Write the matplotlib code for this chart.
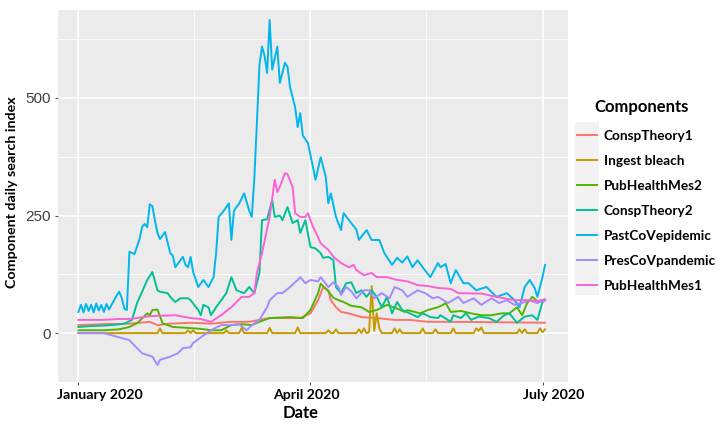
import matplotlib
matplotlib.use('Agg')
import matplotlib.pyplot as plt
import matplotlib.transforms as mtransforms
from matplotlib.patches import Rectangle
import pandas as pd

plt.rcParams['font.family'] = ['Lato', 'DejaVu Sans']

start = pd.Timestamp('2020-01-01')

# values, days counted from 1 Jan 2020
consp1_days = [0, 10, 20, 24, 28, 31, 36, 44, 52, 60, 67, 75, 87, 91, 94, 96, 98, 99, 101, 103,
               106, 111, 117, 124, 130, 137, 146, 166, 183]
consp1_vals = [17, 19, 20, 22, 24, 17, 20, 22, 20, 24, 24, 32, 32, 42, 70, 98, 91, 70, 55, 45,
               42, 34, 32, 28, 28, 24, 24, 23, 22]

bleach_days = [0, 31, 32, 33, 42, 43, 44, 45, 46, 57, 58, 59, 63, 64, 65, 74, 75, 76, 85, 86, 87,
               97, 98, 99, 100, 101, 102, 109, 110, 111, 112, 113, 114, 115, 116, 117, 118, 119,
               123, 124, 125, 126, 127, 134, 135, 136, 139, 140, 141, 146, 147, 148, 155, 156, 157,
               158, 159, 172, 173, 174, 175, 176, 180, 181, 182, 183]
bleach_vals = [0, 0, 10, 0, 0, 6, 0, 6, 0, 0, 6, 0, 0, 11, 0, 0, 11, 0, 0, 12, 0,
               0, 6, 0, 0, 8, 0, 0, 8, 0, 10, 0, 2, 100, 5, 42, 10, 0,
               0, 10, 0, 8, 0, 0, 10, 0, 0, 8, 0, 0, 10, 0, 0, 10, 5,
               12, 0, 0, 8, 0, 8, 0, 0, 10, 2, 8]

pubhealth2_days = [0, 10, 16, 20, 23, 27, 28, 29, 31, 33, 37, 43, 48, 52, 56, 60, 64, 68, 71, 75,
                   83, 88, 91, 94, 95, 98, 100, 102, 104, 107, 111, 114, 117, 121, 125, 128, 129,
                   134, 137, 141, 143, 144, 146, 150, 154, 158, 162, 166, 169, 172, 174, 176, 178,
                   180, 183]
pubhealth2_vals = [6, 6, 8, 13, 21, 42, 38, 49, 50, 21, 13, 11, 9, 6, 6, 17, 19, 17, 24, 32,
                   34, 32, 49, 85, 105, 89, 75, 70, 66, 58, 55, 45, 49, 60, 52, 45, 49,
                   42, 49, 55, 60, 64, 45, 47, 42, 38, 38, 42, 42, 55, 38, 64, 77,
                   68, 70]

consp2_days = [0, 5, 10, 15, 18, 21, 23, 25, 27, 29, 31, 32, 35, 36, 38, 40, 43, 44, 47, 48,
               49, 51, 52, 54, 56, 58, 60, 62, 65, 67, 69, 71, 72, 74, 76, 77, 79, 80, 82, 84,
               86, 87, 89, 91, 93, 95, 96, 98, 100, 101, 102, 103, 105, 107, 109, 111, 113,
               115, 117, 119, 121, 123, 125, 127, 130, 133, 135, 138, 141, 142, 146, 147, 150,
               152, 154, 157, 161, 164, 167, 169, 172, 175, 178, 180, 182, 183]
consp2_vals = [13, 15, 16, 18, 20, 28, 64, 88, 113, 130, 91, 88, 85, 77, 66, 74, 74, 70, 49, 38,
               60, 55, 38, 55, 70, 85, 119, 91, 85, 98, 85, 128, 240, 242, 283, 247, 250, 240, 268, 234,
               240, 213, 240, 183, 180, 170, 160, 162, 155, 98, 91, 85, 106, 108, 85, 91, 77,
               91, 77, 55, 77, 42, 66, 49, 42, 34, 42, 34, 32, 38, 24, 38, 32,
               42, 28, 35, 32, 24, 38, 42, 22, 35, 38, 28, 66, 70]

past_days = [0, 1, 2, 3, 4, 5, 6, 7, 8, 9, 10, 11, 12, 14, 15, 16, 17, 18, 19, 20,
             22, 24, 25, 26, 27, 28, 29, 30, 31, 32, 34, 36, 37, 38, 40, 41, 42, 43, 44, 45,
             47, 49, 51, 53, 54, 55, 57, 59, 60, 61, 62, 63, 65, 67, 68, 69, 70, 71, 72, 73,
             74, 75, 76, 78, 79, 81, 82, 83, 85, 86, 87, 88, 90, 92, 93, 95, 97, 98, 99, 101,
             103, 104, 107, 109, 110, 113, 115, 118, 120, 123, 125, 127, 129, 131, 133, 135,
             138, 141, 142, 144, 146, 148, 151, 153, 156, 160, 164, 168, 171, 173, 175, 177,
             179, 180, 182, 183]
past_vals = [45, 60, 44, 62, 47, 60, 44, 63, 48, 60, 45, 62, 50, 70, 80, 88, 75, 52, 49, 173,
             168, 200, 226, 232, 225, 274, 270, 240, 213, 200, 215, 170, 165, 140, 155, 162, 145, 140, 162, 130,
             98, 113, 98, 119, 170, 247, 260, 276, 198, 260, 268, 275, 297, 260, 247, 330, 447, 570, 609, 590,
             553, 666, 560, 609, 532, 575, 566, 523, 480, 438, 468, 420, 404, 353, 326, 374, 332, 276, 297, 247,
             219, 255, 234, 220, 198, 219, 198, 198, 170, 145, 160, 150, 163, 140, 155, 140,
             119, 149, 140, 147, 106, 134, 106, 106, 91, 98, 77, 85, 70, 55, 98, 113,
             95, 77, 119, 145]

pres_days = [0, 10, 20, 23, 25, 29, 31, 32, 36, 39, 41, 44, 45, 48, 52, 56, 60, 63, 66, 68,
             71, 74, 75, 78, 80, 83, 86, 87, 89, 91, 94, 95, 98, 100, 102, 103, 105, 107, 109,
             112, 114, 116, 119, 122, 124, 127, 129, 133, 136, 139, 141, 145, 149, 151, 155,
             158, 162, 165, 168, 171, 174, 177, 180, 183]
pres_vals = [0, 0, -15, -32, -43, -50, -68, -57, -50, -43, -32, -30, -21, -9, 6, 17, 17, 19, 6, 17,
             28, 55, 70, 85, 85, 98, 113, 119, 106, 113, 110, 119, 98, 108, 98, 81, 98, 89, 74,
             91, 91, 74, 85, 74, 98, 91, 77, 91, 85, 74, 77, 64, 77, 64, 74,
             60, 74, 64, 70, 60, 64, 70, 64, 70]

pubhealth1_days = [0, 9, 16, 20, 23, 28, 38, 44, 48, 52, 56, 60, 64, 67, 69, 70, 72, 75, 77, 78,
                   79, 81, 82, 84, 85, 87, 89, 90, 92, 94, 95, 98, 100, 103, 106, 108, 109, 112,
                   115, 117, 121, 125, 129, 133, 137, 141, 146, 149, 158, 164, 171, 176, 180, 183]
pubhealth1_vals = [28, 28, 30, 30, 32, 36, 38, 32, 30, 24, 38, 55, 77, 77, 85, 128, 170, 247, 326, 300,
                   311, 340, 338, 311, 255, 247, 247, 255, 226, 204, 191, 177, 162, 149, 140, 145, 134, 123,
                   128, 119, 119, 113, 110, 102, 100, 96, 94, 85, 84, 77, 70, 70, 68, 72]

names = ['ConspTheory1', 'Ingest bleach', 'PubHealthMes2', 'ConspTheory2',
         'PastCoVepidemic', 'PresCoVpandemic', 'PubHealthMes1']
colors = ['#F8766D', '#C49A00', '#53B400', '#00C094', '#00B6EB', '#A58AFF', '#FB61D7']
series = [(consp1_days, consp1_vals), (bleach_days, bleach_vals),
          (pubhealth2_days, pubhealth2_vals), (consp2_days, consp2_vals),
          (past_days, past_vals), (pres_days, pres_vals),
          (pubhealth1_days, pubhealth1_vals)]


def to_dates(days):
    return start + pd.to_timedelta(days, unit='D')


fig = plt.figure(figsize=(7.28, 4.28), dpi=100)
ax = fig.add_axes([58 / 728, 1 - 382 / 428, 510 / 728, 372 / 428])
ax.set_facecolor('#EBEBEB')
for s in ax.spines.values():
    s.set_visible(False)

lines = []
for (days, vals), name, c in zip(series, names, colors):
    ln, = ax.plot(to_dates(days), vals, color=c, lw=1.4, label=name)
    lines.append(ln)

ax.set_xlim(start - pd.Timedelta(days=8), start + pd.Timedelta(days=192))
ax.set_ylim(-104, 687)

major_x = [pd.Timestamp('2020-01-01'), pd.Timestamp('2020-04-01'), pd.Timestamp('2020-07-01')]
minor_x = [pd.Timestamp('2020-02-15 12:00'), pd.Timestamp('2020-05-16 12:00')]
ax.set_xticks(major_x)
ax.set_xticklabels(['January 2020', 'April 2020', 'July 2020'], fontsize=10.2, fontweight='bold')
ax.set_xticks(minor_x, minor=True)
ax.set_yticks([0, 250, 500])
ax.set_yticklabels(['0', '250', '500'], fontsize=11, color='#404040',
                   fontfamily=['Liberation Sans'])
ax.set_yticks([125, 375, 625], minor=True)

ax.grid(which='major', color='white', lw=1.2)
ax.grid(which='minor', color='white', lw=0.6)
ax.set_axisbelow(True)
ax.tick_params(which='major', length=2.5, width=0.8, color='#555555', pad=2.5)
ax.tick_params(which='minor', length=0)

# shift x labels as placed in the original picture
for lab, dx in zip(ax.get_xticklabels(), [21, -4, 11]):
    lab.set_transform(lab.get_transform() + mtransforms.ScaledTranslation(dx / 100, 0, fig.dpi_scale_trans))

ax.set_ylabel('Component daily search index', fontsize=10.3, fontweight='bold')
ax.yaxis.set_label_coords(-0.078, 0.51)
ax.set_xlabel('Date', fontsize=12, fontweight='bold')
ax.xaxis.set_label_coords(0.475, -0.062)

fig.patches.append(Rectangle((575 / 728, 1 - 295 / 428), 24 / 728, 173 / 428,
                             transform=fig.transFigure, facecolor='#F2F2F2',
                             edgecolor='none', zorder=0))
fig.text(642 / 728, 1 - 107 / 428, 'Components', ha='center', va='center',
         fontsize=12, fontweight='bold')
leg = fig.legend(handles=lines, loc='upper left', bbox_to_anchor=(577 / 728, 1 - 130 / 428),
                 frameon=False, fontsize=9.8, handlelength=1.47, handletextpad=0.5,
                 labelspacing=0.95, borderpad=0, borderaxespad=0)
for t in leg.get_texts():
    t.set_fontweight('bold')

fig.savefig('out.png', dpi=100)
